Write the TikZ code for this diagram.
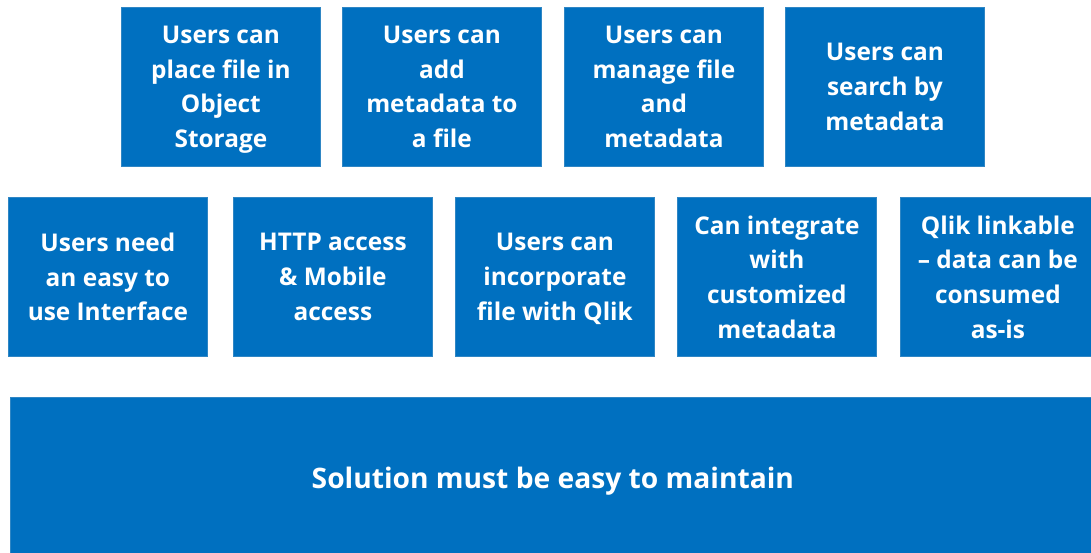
\documentclass[tikz,border=0pt]{standalone}
\usepackage{fontspec}
\setmainfont{Open Sans}
\definecolor{boxblue}{HTML}{0070C0}
\definecolor{boxedge}{HTML}{2F86C4}
\tikzset{
  req/.style={draw=boxedge, line width=0.8pt, fill=boxblue, text=white,
    font=\fontsize{24.4}{34.7}\selectfont\bfseries, align=center, text depth=0pt,
    inner sep=0pt, minimum width=199pt, minimum height=159pt, anchor=north west}
}
\begin{document}
\begin{tikzpicture}[x=1pt,y=-1pt]
\useasboundingbox (0,0) rectangle (1091,553);
% top row
\node[req] (t1) at (121,7) {Users can\\place file in\\Object\\Storage};
\node[req] (t2) at (342,7) {Users can\\add\\metadata to\\a file};
\node[req] (t3) at (564,7) {Users can\\manage file\\and\\metadata};
\node[req] (t4) at (785,7) {Users can\\search by\\metadata};
% middle row
\node[req] (m1) at (8,197) {Users need\\an easy to\\use Interface};
\node[req] (m2) at (233,197) {HTTP access\\\& Mobile\\access};
\node[req] (m3) at (455,197) {Users can\\incorporate\\file with Qlik};
\node[req] (m4) at (677,197) {Can integrate\\with\\customized\\metadata};
\node[req, minimum width=195pt] (m5) at (900,197) {Qlik linkable\\– data can be\\consumed\\as-is};
% bottom
\node[req, minimum width=1085pt, minimum height=160pt, font=\fontsize{28.2}{34.7}\selectfont\bfseries] (b) at (10,397) {Solution must be easy to maintain};
\end{tikzpicture}
\end{document}
